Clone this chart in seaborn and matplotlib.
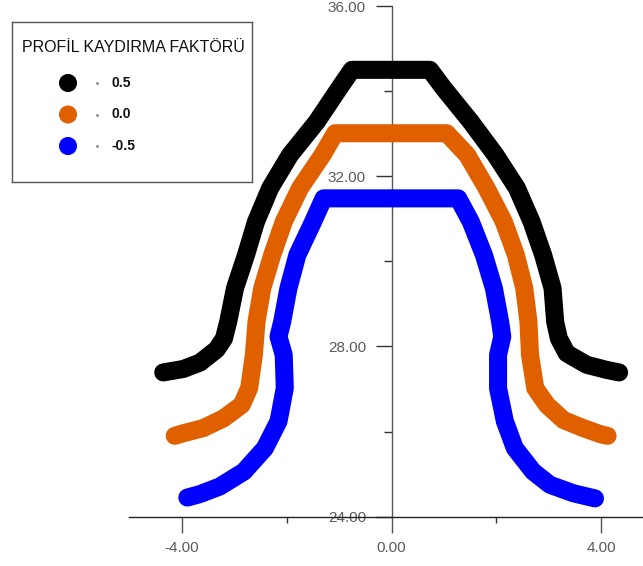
import matplotlib
matplotlib.use("Agg")
import matplotlib.pyplot as plt
import seaborn as sns
import pandas as pd
from matplotlib.ticker import MultipleLocator, FormatStrFormatter

# profile shift factors and their tooth profiles
factors = ["0.5", "0.0", "-0.5"]
colors = ["#000000", "#E06000", "#0000FF"]

x_pos = [-4.36, -3.98, -3.66, -3.34, -3.20, -3.12, -2.99, -2.78, -2.59, -2.32, -1.94, -1.43, -1.00, -0.76,
         0.73, 0.99, 1.51, 1.98, 2.39, 2.67, 2.89, 3.07, 3.12, 3.19, 3.34, 3.72, 4.10, 4.34]
y_pos = [27.39, 27.47, 27.62, 27.93, 28.19, 28.58, 29.37, 30.15, 30.93, 31.72, 32.50, 33.28, 34.07, 34.50,
         34.50, 34.07, 33.28, 32.50, 31.72, 30.93, 30.15, 29.37, 28.58, 28.19, 27.84, 27.57, 27.45, 27.39]

x_zero = [-4.14, -3.98, -3.60, -3.21, -2.86, -2.72, -2.63, -2.58, -2.47, -2.28, -2.06, -1.75, -1.32, -1.08,
          1.05, 1.44, 1.81, 2.14, 2.37, 2.53, 2.61, 2.64, 2.74, 2.96, 3.28, 3.66, 3.98, 4.12]
y_zero = [25.90, 25.96, 26.08, 26.31, 26.63, 27.02, 27.80, 28.58, 29.37, 30.15, 30.93, 31.72, 32.50, 33.01,
          33.01, 32.50, 31.72, 30.93, 30.15, 29.37, 28.58, 27.80, 27.02, 26.63, 26.27, 26.08, 25.94, 25.90]

x_neg = [-3.90, -3.66, -3.28, -2.82, -2.42, -2.16, -2.04, -2.06, -2.16, -2.09, -1.97, -1.80, -1.50, -1.30,
         1.27, 1.51, 1.76, 1.95, 2.07, 2.11, 2.03, 2.03, 2.16, 2.35, 2.70, 3.02, 3.47, 3.88]
y_neg = [24.45, 24.53, 24.71, 25.06, 25.61, 26.24, 27.02, 27.80, 28.23, 28.58, 29.37, 30.15, 30.93, 31.48,
         31.48, 30.93, 30.15, 29.37, 28.58, 28.23, 27.80, 27.02, 26.24, 25.61, 25.06, 24.75, 24.55, 24.43]

profiles = [(x_pos, y_pos), (x_zero, y_zero), (x_neg, y_neg)]

sns.set_style("white")
plt.rcParams['font.family'] = ['Liberation Sans', 'DejaVu Sans']

fig = plt.figure(figsize=(6.43, 5.66), dpi=100)
ax = fig.add_axes([129 / 643, 49.3 / 566, 514 / 643, 510.7 / 566])

for (xs, ys), col in zip(profiles, colors):
    df = pd.DataFrame({"x": xs, "y": ys})
    sns.lineplot(data=df, x="x", y="y", sort=False, estimator=None, color=col,
                 linewidth=13, ax=ax, zorder=3, clip_on=False,
                 solid_capstyle="round", solid_joinstyle="round")

ax.set_xlim(-5.013, 4.796)
ax.set_ylim(24, 36)
ax.set_xlabel("")
ax.set_ylabel("")

# axes crossing at x = 0
ax.spines['left'].set_position(('data', 0))
ax.spines['top'].set_visible(False)
ax.spines['right'].set_visible(False)
ax.spines['left'].set_color("#555555")
ax.spines['bottom'].set_color("#222222")
for s in ['left', 'bottom']:
    ax.spines[s].set_linewidth(1)

ax.xaxis.set_major_locator(MultipleLocator(4))
ax.xaxis.set_minor_locator(MultipleLocator(2))
ax.yaxis.set_major_locator(MultipleLocator(4))
ax.yaxis.set_minor_locator(MultipleLocator(2))
ax.xaxis.set_major_formatter(FormatStrFormatter("%.2f"))
ax.yaxis.set_major_formatter(FormatStrFormatter("%.2f"))

ax.tick_params(axis='x', which='major', direction='out', length=11.5, width=1,
               color="#555555", labelcolor="#5a5a5a", labelsize=11, pad=6)
ax.tick_params(axis='x', which='minor', direction='out', length=4.5, width=1, color="#333333")
ax.tick_params(axis='y', which='major', direction='out', length=11.5, width=1,
               color="#333333", labelcolor="#5a5a5a", labelsize=11, pad=7)
ax.tick_params(axis='y', which='minor', direction='out', length=6, width=1, color="#333333")
ax.tick_params(bottom=True, left=True, which='both')

# legend box
lax = fig.add_axes([12 / 643, (566 - 182) / 566, 240 / 643, 160 / 566])
lax.set_xlim(0, 240)
lax.set_ylim(160, 0)
lax.set_xticks([])
lax.set_yticks([])
for s in lax.spines.values():
    s.set_visible(True)
    s.set_color("#555555")
    s.set_linewidth(1)
lax.text(121, 25, "PROFİL KAYDIRMA FAKTÖRÜ", ha="center", va="center", fontsize=11.5,
         color="#111111")
for i, (lab, col) in enumerate(zip(factors, colors)):
    yy = 61 + i * 31.5
    lax.scatter([56], [yy], s=170, color=col, edgecolors="none")
    lax.scatter([85], [yy], s=1, color="#888888")
    lax.text(100, yy, lab, ha="left", va="center", fontsize=10, fontweight="bold", color="#111111")

fig.savefig("out.png", dpi=100)
